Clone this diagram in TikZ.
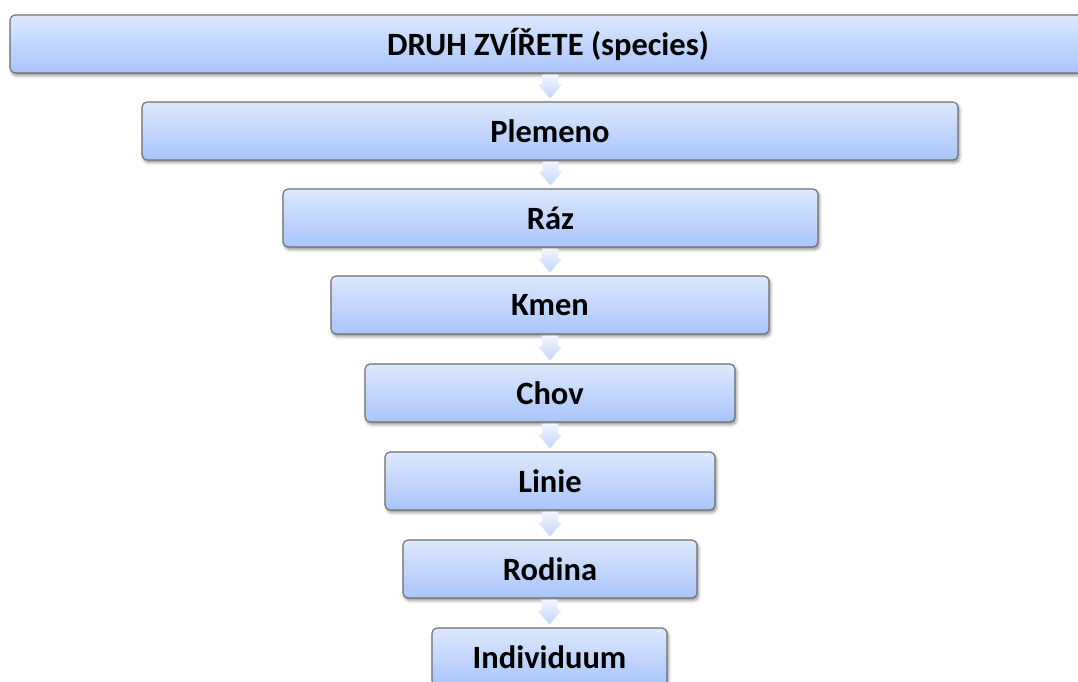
\documentclass[tikz,border=0pt]{standalone}
\usepackage{fontspec}
\setmainfont{Carlito}
\usetikzlibrary{shadows.blur,calc}
\definecolor{boxtop}{HTML}{DDE8FD}
\definecolor{boxbot}{HTML}{A8C5FA}
\definecolor{boxline}{HTML}{6E6E6E}
\definecolor{arrtop}{HTML}{F2F6FE}
\definecolor{arrbot}{HTML}{C3D6FB}

% block arrow pointing down from node #1 to node #2
\newcommand\flowdown[2]{%
  \path[flow] let \p1=(#1.south), \p2=(#2.north) in
    (\x2-8pt,\y1-1pt) -- (\x2+8pt,\y1-1pt) -- (\x2+8pt,\y2+17pt) --
    (\x2+12pt,\y2+17pt) -- (\x2,\y2+3pt) -- (\x2-12pt,\y2+17pt) --
    (\x2-8pt,\y2+17pt) -- cycle;}

\begin{document}
\begin{tikzpicture}[x=1pt,y=-1pt,
  level/.style={draw=boxline, line width=1.1pt, rounded corners=5pt,
    top color=boxtop, bottom color=boxbot, inner sep=0pt,
    minimum height=58pt, text=black,
    font=\bfseries\fontsize{32.5}{38}\selectfont,
    blur shadow={shadow xshift=1.5pt, shadow yshift=-2.5pt,
      shadow blur radius=3pt, shadow opacity=45}},
  flow/.style={top color=arrtop, bottom color=arrbot, draw=none}]
  \useasboundingbox (0,0) rectangle (1078,682);
  \clip (0,0) rectangle (1078,682);

  \node[level, minimum width=1076pt] (n1) at (548,44)  {DRUH ZVÍŘETE (species)};
  \node[level, minimum width=816pt]  (n2) at (550,131) {Plemeno};
  \node[level, minimum width=535pt]  (n3) at (550.5,218) {Ráz};
  \node[level, minimum width=438pt]  (n4) at (550,305) {Kmen};
  \node[level, minimum width=370pt]  (n5) at (550,393) {Chov};
  \node[level, minimum width=330pt]  (n6) at (550,481) {Linie};
  \node[level, minimum width=294pt]  (n7) at (550,569) {Rodina};
  \node[level, minimum width=235pt]  (n8) at (549.5,657) {Individuum};

  \flowdown{n1}{n2}
  \flowdown{n2}{n3}
  \flowdown{n3}{n4}
  \flowdown{n4}{n5}
  \flowdown{n5}{n6}
  \flowdown{n6}{n7}
  \flowdown{n7}{n8}
\end{tikzpicture}
\end{document}
